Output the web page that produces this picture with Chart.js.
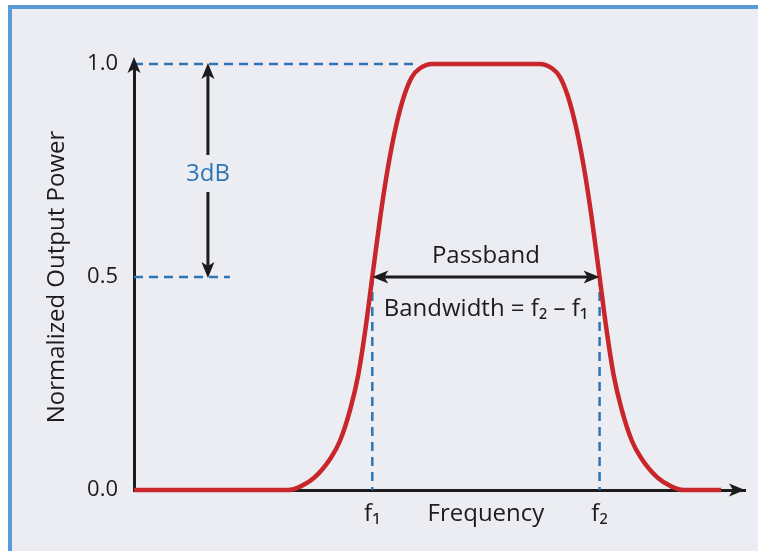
<!DOCTYPE html>
<html>
<head>
<meta charset="utf-8">
<script src="https://cdn.jsdelivr.net/npm/chart.js@4.4.1/dist/chart.umd.min.js"></script>
<style>
  html, body { margin: 0; padding: 0; background: #ffffff; overflow: hidden; }
  #frame {
    position: absolute; left: 8px; top: 5px; width: 800px; height: 600px;
    background: #ecedf2; border: 4px solid #5b9bd5;
  }
  #wrap { position: absolute; left: 0; top: 0; width: 758px; height: 551px; }
</style>
</head>
<body>
<div id="frame"></div>
<div id="wrap"><canvas id="bandChart"></canvas></div>
<script>
// Band-pass response (arbitrary frequency units)
const freq = [0, 25.2, 27.2, 29.6, 32.2, 33.7, 35.4, 36.7, 37.8, 39.0, 40.3, 41.6, 42.9, 44.2, 45.5, 46.8, 48.8,
              66.4, 68.4, 69.7, 71.0, 72.3, 73.6, 74.9, 76.2, 77.4, 78.5, 79.8, 81.5, 83.0, 85.6, 88.0, 90.0, 96.1];
const power = [0, 0, 0.008, 0.03, 0.075, 0.115, 0.19, 0.27, 0.37, 0.5, 0.64, 0.76, 0.855, 0.925, 0.97, 0.99, 1.0,
               1.0, 0.99, 0.97, 0.925, 0.855, 0.76, 0.64, 0.5, 0.37, 0.27, 0.19, 0.115, 0.075, 0.03, 0.008, 0, 0];

const f1 = 39.0;
const f2 = 76.2;
const yTicks = [0, 0.5, 1.0];
const xTickLabels = ['f\u2081', 'Frequency', 'f\u2082'];
const xTickValues = [f1, (f1 + f2) / 2, f2];

// helper guide lines
const topGuide = [{ x: 0, y: 1.0 }, { x: 46, y: 1.0 }];
const halfGuide = [{ x: 0, y: 0.5 }, { x: 15.7, y: 0.5 }];
const f1Guide = [{ x: f1, y: 0.5 }, { x: f1, y: 0 }];
const f2Guide = [{ x: f2, y: 0.5 }, { x: f2, y: 0 }];
const dbArrowX = 12.1;

const FONT = '"Open Sans", "Noto Sans", sans-serif';
const INK = '#1c1c1c';
const BLUE = '#2e75b6';

function arrowHead(ctx, x, y, angle) {
  const len = 16, half = 6.5;
  ctx.save();
  ctx.translate(x, y);
  ctx.rotate(angle);
  ctx.beginPath();
  ctx.moveTo(0, 0);
  ctx.lineTo(-len, -half);
  ctx.lineTo(-len + 4, 0);
  ctx.lineTo(-len, half);
  ctx.closePath();
  ctx.fill();
  ctx.restore();
}

const annotations = {
  id: 'annotations',
  afterDraw(chart) {
    const { ctx, chartArea, scales: { x, y } } = chart;
    ctx.save();
    ctx.fillStyle = INK;
    ctx.strokeStyle = INK;
    ctx.lineWidth = 3;

    // axis arrow heads
    arrowHead(ctx, chartArea.left, chartArea.top - 7, -Math.PI / 2);
    arrowHead(ctx, chartArea.right, chartArea.bottom, 0);

    // 3dB arrow
    const ax = x.getPixelForValue(dbArrowX);
    const yTop = y.getPixelForValue(1.0);
    const yHalf = y.getPixelForValue(0.5);
    const yLbl = y.getPixelForValue(0.744);
    ctx.beginPath();
    ctx.moveTo(ax, yTop + 8); ctx.lineTo(ax, yLbl - 18);
    ctx.moveTo(ax, yLbl + 19); ctx.lineTo(ax, yHalf - 8);
    ctx.stroke();
    arrowHead(ctx, ax, yTop - 1, -Math.PI / 2);
    arrowHead(ctx, ax, yHalf + 1, Math.PI / 2);

    // passband arrow
    const p1 = x.getPixelForValue(f1);
    const p2 = x.getPixelForValue(f2);
    ctx.beginPath();
    ctx.moveTo(p1 + 8, yHalf); ctx.lineTo(p2 - 8, yHalf);
    ctx.stroke();
    arrowHead(ctx, p1, yHalf, Math.PI);
    arrowHead(ctx, p2, yHalf, 0);

    // labels
    ctx.font = '24px ' + FONT;
    ctx.textAlign = 'center';
    ctx.textBaseline = 'middle';
    ctx.fillStyle = BLUE;
    ctx.fillText('3dB', ax, yLbl + 1);
    ctx.fillStyle = INK;
    const mid = (p1 + p2) / 2;
    ctx.fillText('Passband', mid, y.getPixelForValue(0.55));
    ctx.fillText('Bandwidth = f\u2082 \u2013 f\u2081', mid, y.getPixelForValue(0.425));
    ctx.restore();
  }
};

function guide(data) {
  return {
    data: data,
    borderColor: BLUE,
    borderWidth: 2.5,
    borderDash: [9, 6],
    pointRadius: 0,
    showLine: true,
    clip: false
  };
}

new Chart(document.getElementById('bandChart'), {
  type: 'scatter',
  data: {
    datasets: [
      {
        data: freq.map((f, i) => ({ x: f, y: power[i] })),
        borderColor: '#c9262c',
        borderWidth: 4.5,
        pointRadius: 0,
        showLine: true,
        cubicInterpolationMode: 'monotone',
        clip: false
      },
      guide(topGuide),
      guide(halfGuide),
      guide(f1Guide),
      guide(f2Guide)
    ]
  },
  plugins: [annotations],
  options: {
    responsive: true,
    maintainAspectRatio: false,
    animation: false,
    layout: { padding: { top: 64, right: 13, left: 43, bottom: 8 } },
    plugins: { legend: { display: false }, tooltip: { enabled: false } },
    scales: {
      x: {
        type: 'linear',
        min: 0,
        max: 100,
        grid: { display: false, drawTicks: false },
        border: { display: true, color: INK, width: 3 },
        afterBuildTicks: (s) => { s.ticks = xTickValues.map(v => ({ value: v })); },
        afterFit: (s) => { s.height = 551 - 490 - 8; },
        ticks: {
          color: INK,
          padding: 10,
          font: { family: FONT, size: 24 },
          callback: (v, i) => xTickLabels[i]
        }
      },
      y: {
        min: 0,
        max: 1,
        grid: { display: false, drawTicks: false },
        border: { display: true, color: INK, width: 3 },
        afterBuildTicks: (s) => { s.ticks = yTicks.map(v => ({ value: v })); },
        afterFit: (s) => { s.width = 134 - 43; },
        ticks: {
          color: INK,
          padding: 16,
          font: { family: FONT, size: 22 },
          callback: (v) => v.toFixed(1)
        },
        title: {
          display: true,
          text: 'Normalized Output Power',
          color: INK,
          padding: 0,
          font: { family: FONT, size: 24 }
        }
      }
    }
  }
});
</script>
</body>
</html>
